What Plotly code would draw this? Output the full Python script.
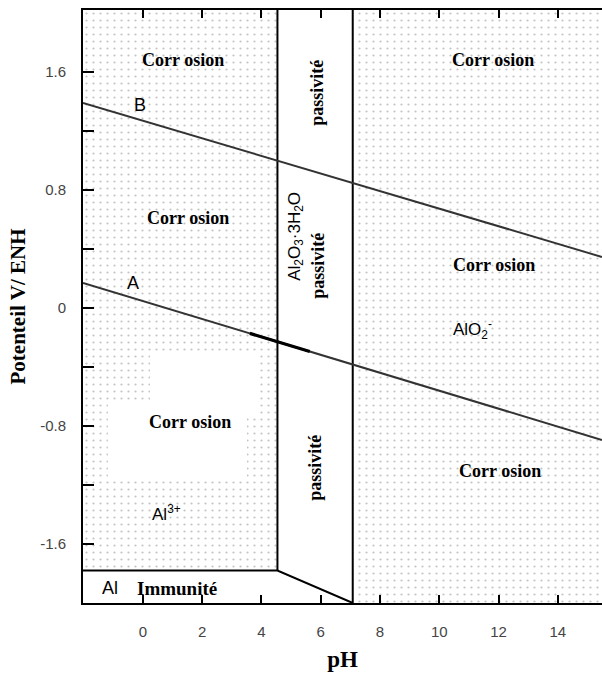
import plotly.graph_objects as go

# Pourbaix (E-pH) diagram of aluminium
# Stability boundaries (pH, potential in V vs ENH)
ph_passive_low = 4.54
ph_passive_high = 7.08
e_immunity = -1.78

ph_min, ph_max = -2.02, 15.49
e_min, e_max = -2.0, 2.02

# Water stability lines A (H2) and B (O2)
line_ph = [-2.02, 15.49]
line_A_E = [0.17, -0.895]
line_B_E = [1.39, 0.346]
# heavier stroke drawn over part of line A
thick_A_ph = [3.61, 5.63]
thick_A_E = [-0.172, -0.295]

# cleared backdrop behind the lower "Corrosion" label
backdrop_ph = [0.24, 3.88, 3.88, 3.51, 3.51, -1.18, -1.18, 0.24]
backdrop_E = [-0.30, -0.30, -0.74, -0.74, -1.15, -1.15, -0.64, -0.64]

x_ticks = [0, 2, 4, 6, 8, 10, 12, 14]
y_ticks = [-1.6, -0.8, 0, 0.8, 1.6]
y_tick_text = ["-1.6", "-0.8", "0", "0.8", "1.6"]

SERIF = "Liberation Serif"
SANS = "Liberation Sans"

dots = dict(shape=".", size=7, solidity=0.08, fgcolor="#8a8a8a", bgcolor="white")

fig = go.Figure()

# dotted corrosion domains
fig.add_trace(go.Scatter(
    x=[ph_min, ph_passive_low, ph_passive_low, ph_min, ph_min],
    y=[e_immunity, e_immunity, e_max, e_max, e_immunity],
    fill="toself", fillpattern=dots, fillcolor="white",
    mode="none", hoverinfo="skip", showlegend=False))
fig.add_trace(go.Scatter(
    x=[ph_passive_high, ph_max, ph_max, ph_passive_high, ph_passive_high],
    y=[e_min, e_min, e_max, e_max, e_min],
    fill="toself", fillpattern=dots, fillcolor="white",
    mode="none", hoverinfo="skip", showlegend=False))
fig.add_trace(go.Scatter(
    x=backdrop_ph + [backdrop_ph[0]], y=backdrop_E + [backdrop_E[0]],
    fill="toself", fillcolor="white", mode="none",
    hoverinfo="skip", showlegend=False))

# domain boundaries
border = dict(color="black", width=2)
fig.add_trace(go.Scatter(x=[ph_passive_low, ph_passive_low], y=[e_immunity, e_max],
                         mode="lines", line=border, hoverinfo="skip", showlegend=False))
fig.add_trace(go.Scatter(x=[ph_passive_high, ph_passive_high], y=[e_min, e_max],
                         mode="lines", line=border, hoverinfo="skip", showlegend=False))
fig.add_trace(go.Scatter(x=[ph_min, ph_passive_low, ph_passive_high],
                         y=[e_immunity, e_immunity, e_min],
                         mode="lines", line=border, hoverinfo="skip", showlegend=False))

# water lines
fig.add_trace(go.Scatter(x=line_ph, y=line_B_E, mode="lines",
                         line=dict(color="#333333", width=2), showlegend=False))
fig.add_trace(go.Scatter(x=line_ph, y=line_A_E, mode="lines",
                         line=dict(color="#333333", width=2), showlegend=False))
fig.add_trace(go.Scatter(x=thick_A_ph, y=thick_A_E, mode="lines",
                         line=dict(color="black", width=3.2), showlegend=False))

def label(x, y, text, font, size, angle=0):
    fig.add_annotation(x=x, y=y, text=text, showarrow=False, textangle=angle,
                       font=dict(family=font, size=size, color="black"))

corr = "<b>Corr osion</b>"
label(1.35, 1.68, corr, SERIF, 18)
label(11.81, 1.68, corr, SERIF, 18)
label(1.52, 0.61, corr, SERIF, 18)
label(11.84, 0.29, corr, SERIF, 18)
label(1.59, -0.77, corr, SERIF, 18)
label(12.04, -1.105, corr, SERIF, 18)

label(5.87, 1.458, "<b>passivité</b>", SERIF, 18, -90)
label(5.90, 0.285, "<b>passivité</b>", SERIF, 18, -90)
label(5.80, -1.085, "<b>passivité</b>", SERIF, 18, -90)
label(5.16, 0.488, "Al<sub>2</sub>O<sub>3</sub>·3H<sub>2</sub>O", SANS, 17, -90)

label(11.13, -0.149, "AlO<sub>2</sub><sup>-</sup>", SANS, 17)
label(0.81, -1.39, "Al<sup>3+</sup>", SANS, 17)
label(-1.11, -1.90, "Al", SANS, 18)
label(1.15, -1.90, "<b>Immunité</b>", SERIF, 19)
label(-0.34, 0.17, "A", SANS, 18)
label(-0.10, 1.376, "B", SANS, 18)

fig.update_xaxes(
    range=[ph_min, ph_max], tickvals=x_ticks, ticks="inside", ticklen=8,
    tickwidth=1.5, tickcolor="black", showline=True, linecolor="black",
    linewidth=2, mirror="ticks", showgrid=False, zeroline=False,
    tickfont=dict(family=SANS, size=15, color="#444444"),
    ticklabelstandoff=14,
    title=dict(text="<b>pH</b>", font=dict(family=SERIF, size=23, color="black"),
               standoff=12))
fig.update_yaxes(
    range=[e_min, e_max], tickvals=y_ticks, ticktext=y_tick_text, ticks="inside",
    ticklen=11, tickwidth=1.5, tickcolor="black", showline=True,
    linecolor="black", linewidth=2, mirror=False, showgrid=False,
    zeroline=False, tickfont=dict(family=SANS, size=15, color="#444444"),
    minor=dict(tickvals=[-1.2, -0.4, 0.4, 1.2], ticks="inside", ticklen=11,
               tickwidth=1.5, tickcolor="black"),
    ticklabelstandoff=12,
    title=dict(text="<b>Potenteil V/ ENH</b>",
               font=dict(family=SERIF, size=21, color="black"), standoff=9))

fig.update_layout(
    width=602, height=682, margin=dict(l=83, r=0, t=10, b=79),
    paper_bgcolor="white", plot_bgcolor="white", showlegend=False)

fig.write_html("out.html")
